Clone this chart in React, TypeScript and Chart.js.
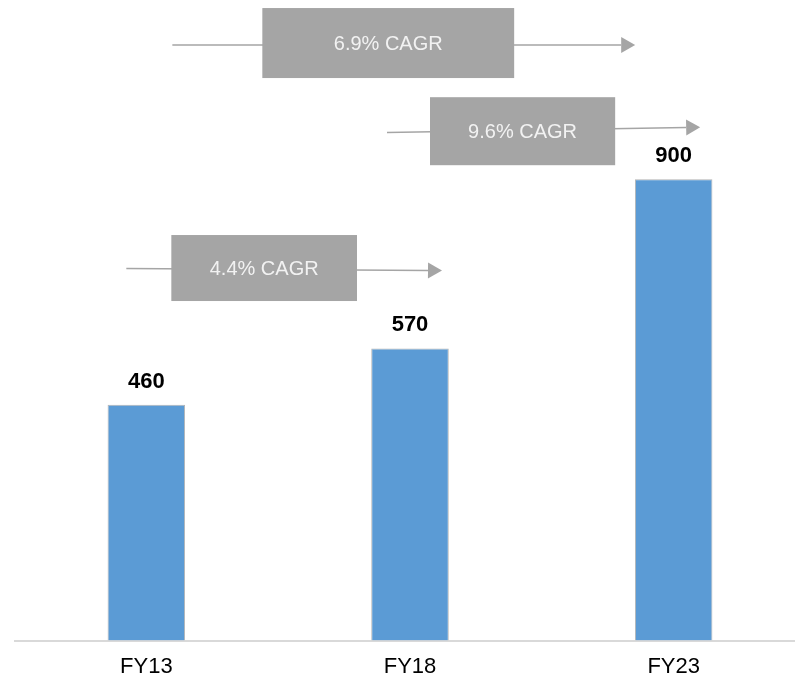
import React, { useEffect, useRef } from "react";
import { Chart, registerables } from "chart.js";

Chart.register(...registerables);

const categories = ["FY13", "FY18", "FY23"];
const values = [460, 570, 900];
const cagrLabels = ["4.4% CAGR", "9.6% CAGR", "6.9% CAGR"];
const cagrFrom = [0, 1, 0];
const cagrTo = [1, 2, 2];

const FONT = "Arial, 'Liberation Sans', sans-serif";
const GRAY = "#a5a5a5";

// geometry of the CAGR annotations (pixel offsets from category centres, value levels)
const cagrGeom = [
  { a: -20, b: 32, bl: 25, br: -53, level: 727, dyL: 0.5, dyR: 2.5, half: 33 },
  { a: -23, b: 26.5, bl: 20, br: -58.5, level: 994, dyL: 1.3, dyR: -4, half: 34 },
  { a: 26, b: -38.5, bl: 116, br: -159.5, level: 1166, dyL: 2, dyR: 2, half: 35 },
];

const overlayPlugin = {
  id: "overlay",
  afterDatasetsDraw(chart: any) {
    const ctx = chart.ctx;
    const meta = chart.getDatasetMeta(0);
    const xs = chart.scales.x;
    const ys = chart.scales.y;
    ctx.save();
    // value labels
    ctx.font = `bold 22px ${FONT}`;
    ctx.fillStyle = "#000";
    ctx.textAlign = "center";
    ctx.textBaseline = "alphabetic";
    meta.data.forEach((bar: any, i: number) => {
      ctx.fillText(String(values[i]), bar.x, bar.y - 17);
    });
    // CAGR arrows
    cagrLabels.forEach((label, i) => {
      const g = cagrGeom[i];
      const c0 = xs.getPixelForValue(cagrFrom[i]);
      const c1 = xs.getPixelForValue(cagrTo[i]);
      const yc = ys.getPixelForValue(g.level);
      const x0 = c0 + g.a;
      const x1 = c1 + g.b;
      const y0 = yc + g.dyL;
      const y1 = yc + g.dyR;
      const headLen = 14;
      const ang = Math.atan2(y1 - y0, x1 - x0);
      const hx = x1 - headLen * Math.cos(ang);
      const hy = y1 - headLen * Math.sin(ang);
      ctx.strokeStyle = GRAY;
      ctx.lineWidth = 1.5;
      ctx.beginPath();
      ctx.moveTo(x0, y0);
      ctx.lineTo(hx, hy);
      ctx.stroke();
      ctx.fillStyle = GRAY;
      ctx.beginPath();
      ctx.moveTo(x1, y1);
      ctx.lineTo(hx - 8 * Math.sin(ang), hy + 8 * Math.cos(ang));
      ctx.lineTo(hx + 8 * Math.sin(ang), hy - 8 * Math.cos(ang));
      ctx.closePath();
      ctx.fill();
      const bl = c0 + g.bl;
      const br = c1 + g.br;
      ctx.fillRect(bl, yc - g.half, br - bl, g.half * 2);
      ctx.fillStyle = "#f2f2f2";
      ctx.font = `20px ${FONT}`;
      ctx.textAlign = "center";
      ctx.textBaseline = "middle";
      ctx.fillText(label, (bl + br) / 2, yc + 1);
    });
    ctx.restore();
  },
};

export default function App() {
  const ref = useRef<HTMLCanvasElement | null>(null);
  useEffect(() => {
    if (!ref.current) return;
    const chart = new Chart(ref.current, {
      type: "bar",
      data: {
        labels: categories,
        datasets: [
          {
            data: values,
            backgroundColor: "#5b9bd5",
            borderColor: "#b4b4b4",
            borderWidth: 1,
            categoryPercentage: 1,
            barPercentage: 0.294,
          },
        ],
      },
      options: {
        responsive: false,
        animation: false,
        layout: { padding: { left: 14.5, right: 14.5, top: 0, bottom: 2 } },
        plugins: { legend: { display: false }, tooltip: { enabled: false } },
        scales: {
          x: {
            grid: { display: false, drawTicks: false },
            border: { display: true, color: "#d9d9d9", width: 2 },
            ticks: { color: "#000", font: { family: FONT, size: 22 }, padding: 13 },
          },
          y: { display: false, min: 0, max: 1250 },
        },
      },
      plugins: [overlayPlugin],
    });
    return () => chart.destroy();
  }, []);
  return (
    <div style={{ position: "absolute", left: 0, top: 0, width: 795, height: 682, overflow: "hidden", background: "#fff" }}>
      <canvas ref={ref} width={820} height={695} style={{ display: "block" }} />
    </div>
  );
}
